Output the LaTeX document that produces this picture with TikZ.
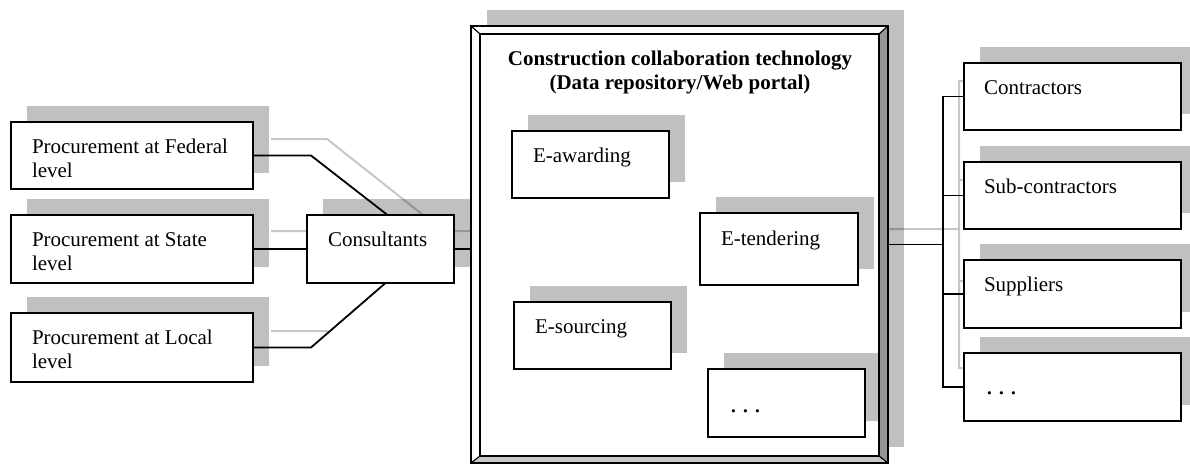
\documentclass[tikz,border=0pt]{standalone}
\usepackage{fontspec}
\setmainfont{Liberation Serif}
\usetikzlibrary{calc}
\pgfdeclarelayer{bg}
\pgfdeclarelayer{bigl}
\pgfdeclarelayer{lines}
\pgfsetlayers{bg,bigl,lines,main}
\definecolor{shadowc}{RGB}{192,192,192}
\definecolor{bevelr}{RGB}{150,150,150}
\definecolor{bevelb}{RGB}{200,200,200}
\tikzset{
  box/.style={draw, line width=1.6pt, fill=white, inner sep=0pt, outer sep=0pt, anchor=north west},
  txt/.style={anchor=base west, inner sep=0pt, outer sep=0pt, align=left, font=\fontsize{21}{24}\selectfont},
  conn/.style={line width=1.8pt},
  shline/.style={line width=2pt, draw=black, draw opacity=0.22},
  frame/.style={line width=1.6pt},
}
\newcommand{\mydots}{{\fontsize{27}{24}\selectfont .\hspace{5.3pt}.\hspace{5.3pt}.}}
\begin{document}
\begin{tikzpicture}[x=1pt,y=-1pt]
\useasboundingbox (0,0) rectangle (1190,464);

% left boxes
\node[box, minimum width=242pt, minimum height=67pt] (fed) at (11,122) {};
\node[box, minimum width=242pt, minimum height=68pt] (state) at (11,215) {};
\node[box, minimum width=242pt, minimum height=69pt] (loc) at (11,313) {};
\node[box, minimum width=147pt, minimum height=68pt] (cons) at (307,215) {};
% central frame (holder)
\node[inner sep=0pt, outer sep=0pt, anchor=north west, minimum width=417pt, minimum height=437pt] (big) at (471,26) {};
% inner boxes
\node[box, minimum width=157pt, minimum height=67pt] (aw) at (512,131) {};
\node[box, minimum width=158pt, minimum height=72pt] (te) at (700,213) {};
\node[box, minimum width=157pt, minimum height=67pt] (so) at (514,302) {};
\node[box, minimum width=157pt, minimum height=68pt] (dt) at (708,369) {};
% right boxes
\node[box, minimum width=217pt, minimum height=67pt] (c1) at (964,63) {};
\node[box, minimum width=217pt, minimum height=67pt] (c2) at (964,162) {};
\node[box, minimum width=217pt, minimum height=68pt] (c3) at (964,260) {};
\node[box, minimum width=217pt, minimum height=68pt] (c4) at (964,353) {};

% texts (base = last line)
\node[txt] (fedt) at ($(fed.north west)+(21,55)$) {Procurement at Federal\\level};
\node[txt] (statet) at ($(state.north west)+(21,55)$) {Procurement at State\\level};
\node[txt] (loct) at ($(loc.north west)+(21,55)$) {Procurement at Local\\level};
\node[txt] (const) at ($(cons.north west)+(21,31)$) {Consultants};
\node[txt] (awt) at ($(aw.north west)+(21,31)$) {E-awarding};
\node[txt] (tet) at ($(te.north west)+(21,32)$) {E-tendering};
\node[txt] (sot) at ($(so.north west)+(21,31)$) {E-sourcing};
\node[txt] (dtt) at ($(dt.north west)+(22,43)$) {\mydots};
\node[txt] (c1t) at ($(c1.north west)+(20,31)$) {Contractors};
\node[txt] (c2t) at ($(c2.north west)+(20,31)$) {Sub-contractors};
\node[txt] (c3t) at ($(c3.north west)+(20,31)$) {Suppliers};
\node[txt] (c4t) at ($(c4.north west)+(22,41)$) {\mydots};
\node[font=\bfseries\fontsize{21}{24}\selectfont, align=center, anchor=base, inner sep=0pt] (title) at (680,89)
  {Construction collaboration technology\\(Data repository/Web portal)};

% outer shadows
\begin{pgfonlayer}{bg}
  \foreach \n in {fed,state,loc,cons,big,c1,c2,c3,c4}
    \fill[shadowc] ($(\n.north west)+(16,-16)$) rectangle ($(\n.south east)+(16,-16)$);
\end{pgfonlayer}

% central frame
\begin{pgfonlayer}{bigl}
  \fill[white] (big.north west) rectangle (big.south east);
  \foreach \n in {aw,te,so,dt}
    \fill[shadowc] ($(\n.north west)+(16,-16)$) rectangle ($(\n.south east)+(16,-16)$);
  \coordinate (inw) at ($(big.north west)+(9,8)$);
  \coordinate (ine) at ($(big.north east)+(-9,8)$);
  \coordinate (ise) at ($(big.south east)+(-9,-7)$);
  \coordinate (isw) at ($(big.south west)+(9,-7)$);
  \fill[bevelr] (big.north east) -- (ine) -- (ise) -- (big.south east) -- cycle;
  \fill[bevelb] (big.south west) -- (isw) -- (ise) -- (big.south east) -- cycle;
  \draw[frame] (big.north west) rectangle (big.south east);
  \draw[frame] (inw) rectangle (ise);
  \draw[line width=1.2pt] (big.north west) -- (inw) (big.north east) -- (ine)
        (big.south east) -- (ise) (big.south west) -- (isw);
\end{pgfonlayer}

% connectors
\begin{pgfonlayer}{lines}
  \draw[shline] (271,139) -- (327,139) -- (423,215)
                (271,231) -- (307,231)
                (271,331) -- (328,331)
                (454,231) -- (471,231)
                (888,229) -- (959,229)
                (980,81) -- (959,81) -- (959,368) -- (980,368)
                (959,180) -- (980,180) (959,281) -- (980,281);
  \draw[conn] (fed.east) -- ++(58,0) -- ($(cons.north)+(7,0)$);
  \draw[conn] (state.east) -- (cons.west);
  \draw[conn] (loc.east) -- ++(58,0) -- ($(cons.south)+(5,0)$);
  \draw[conn] (cons.east) -- (cons.east -| big.west);
  \coordinate (jr) at ($(big.east)+(55,0)$);
  \draw[conn] (big.east) -- (jr);
  \draw[conn] (c1.west) -- (jr |- c1.west) -- (jr |- c4.west) -- (c4.west);
  \draw[conn] (jr |- c2.west) -- (c2.west) (jr |- c3.west) -- (c3.west);
\end{pgfonlayer}
\end{tikzpicture}
\end{document}
